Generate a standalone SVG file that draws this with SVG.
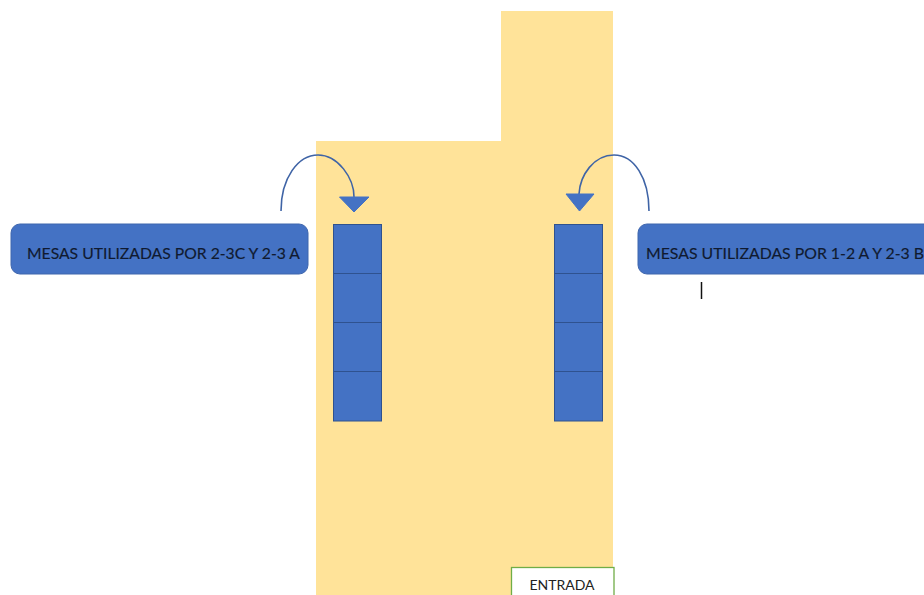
<svg xmlns="http://www.w3.org/2000/svg" width="924" height="595" viewBox="0 0 924 595">
<style>
.cell{fill:#4472c4;stroke:#2f528f;stroke-width:1}
.box{fill:#4472c4;stroke:#3f66ad;stroke-width:1}
.lbl{font-family:Lato,"Open Sans",sans-serif;font-size:14.5px;fill:#101a30;stroke:#101a30;stroke-width:0.15}
.arc{fill:none;stroke:#3f64a6;stroke-width:1.6}
.head{fill:#4472c4;stroke:#4472c4;stroke-width:1}
</style>
<rect width="924" height="595" fill="#ffffff"/>
<path id="floor" d="M316 141H501V11H613V595H316Z" fill="#ffe399"/>
<g id="mesas-izquierda">
<rect class="cell" x="333.500" y="224.500" width="48" height="49"/>
<rect class="cell" x="333.500" y="273.500" width="48" height="49"/>
<rect class="cell" x="333.500" y="322.500" width="48" height="49"/>
<rect class="cell" x="333.500" y="371.500" width="48" height="49.500"/>
</g>
<g id="mesas-derecha">
<rect class="cell" x="554.500" y="224.500" width="48" height="49"/>
<rect class="cell" x="554.500" y="273.500" width="48" height="49"/>
<rect class="cell" x="554.500" y="322.500" width="48" height="49"/>
<rect class="cell" x="554.500" y="371.500" width="48" height="49.500"/>
</g>
<g id="etiqueta-izquierda">
<rect class="box" x="11" y="224" width="297" height="50" rx="9"/>
<text class="lbl" x="27" y="259" textLength="273" lengthAdjust="spacingAndGlyphs">MESAS UTILIZADAS POR 2-3C Y 2-3 A</text>
</g>
<g id="etiqueta-derecha">
<rect class="box" x="638" y="224" width="300" height="50" rx="9"/>
<text class="lbl" x="646" y="259" textLength="278" lengthAdjust="spacingAndGlyphs">MESAS UTILIZADAS POR 1-2 A Y 2-3 B</text>
</g>
<g id="entrada">
<rect x="511.500" y="567.500" width="102.500" height="30" fill="#ffffff" stroke="#70ad47" stroke-width="1.300"/>
<text x="562" y="590" text-anchor="middle" font-family="Lato,'Open Sans',sans-serif" font-size="14px" fill="#222222">ENTRADA</text>
</g>
<g id="conectores">
<path class="arc" d="M281 211C281 178 298 155 318 155C338 155 354 178 354 197"/>
<polygon class="head" points="339.500,197 369,197 354,212"/>
<path class="arc" d="M649 211C649 178 634 155 614 155C594 155 580 175 579 194"/>
<polygon class="head" points="566,194 594,194 579.500,211"/>
</g>
<line id="cursor" x1="701.500" y1="282" x2="701.500" y2="299" stroke="#111111" stroke-width="1.500"/>
</svg>
